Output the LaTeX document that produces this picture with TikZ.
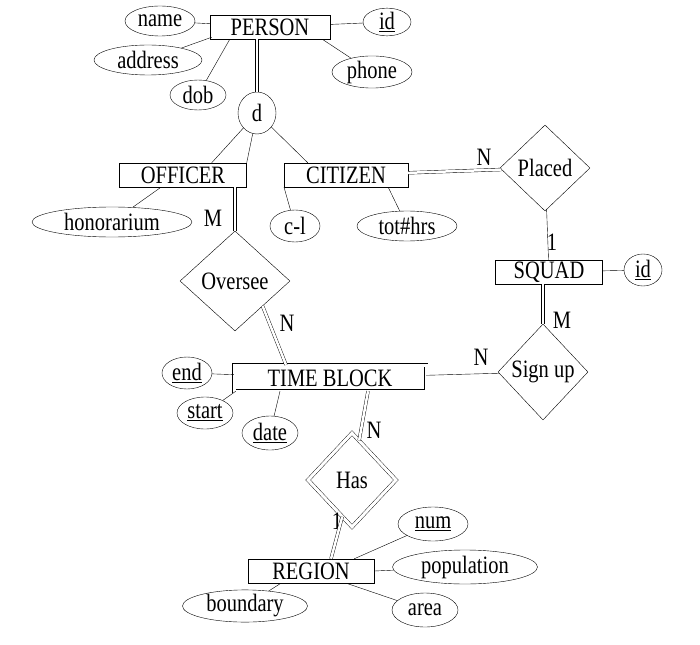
\documentclass[tikz,border=0pt]{standalone}
\usepackage{fontspec}
\setmainfont{Liberation Serif}[FakeStretch=0.82]
\usetikzlibrary{shapes.geometric}
\begin{document}
\begin{tikzpicture}[x=1pt,y=-1pt,
  every node/.style={font=\fontsize{25}{25}\selectfont, inner sep=0pt},
  ent/.style={draw, rectangle, minimum height=24pt},
  attr/.style={draw, ellipse},
  rel/.style={draw, diamond},
  lab/.style={},
  dbl/.style={double, double distance=2.5pt},
  wk/.style={double, double distance=3pt}]
\useasboundingbox (0,0) rectangle (700,644);
% entities
\node[ent, minimum width=120pt] (person) at (270,27) {PERSON};
\node[ent, minimum width=127pt] (officer) at (183,175) {OFFICER};
\node[ent, minimum width=124pt] (citizen) at (346,175) {CITIZEN};
\node[ent, minimum width=107pt] (squad) at (549,272) {SQUAD};
\node[ent, wk, minimum width=192pt, minimum height=26pt] (tb) at (330,378) {TIME BLOCK};
\node[ent, minimum width=126pt] (region) at (311,571) {REGION};
% attributes
\node[attr, minimum width=70pt, minimum height=30pt] (name) at (160,21) {name};
\node[attr, minimum width=48pt, minimum height=26pt] (pid) at (387,22) {\underline{id}};
\node[attr, minimum width=108pt, minimum height=30pt] (address) at (148,60) {address};
\node[attr, minimum width=56pt, minimum height=30pt] (dob) at (198,95) {dob};
\node[attr, minimum width=80pt, minimum height=28pt] (phone) at (372,72) {phone};
\node[draw, ellipse, minimum width=38pt, minimum height=42pt] (d) at (257,113) {d};
\node[attr, minimum width=160pt, minimum height=30pt] (hon) at (112,222) {honorarium};
\node[attr, minimum width=50pt, minimum height=32pt] (cl) at (295,226) {c-l};
\node[attr, minimum width=100pt, minimum height=30pt] (tot) at (407,226) {tot\#hrs};
\node[attr, minimum width=38pt, minimum height=32pt] (sid) at (643,270) {\underline{id}};
\node[attr, minimum width=50pt, minimum height=32pt] (end) at (187,373) {\underline{end}};
\node[attr, minimum width=56pt, minimum height=32pt] (start) at (205,413) {\underline{start}};
\node[attr, minimum width=56pt, minimum height=34pt] (date) at (270,433) {\underline{date}};
\node[attr, minimum width=70pt, minimum height=34pt] (num) at (433,524) {\underline{num}};
\node[attr, minimum width=145pt, minimum height=34pt] (pop) at (465,567) {population};
\node[attr, minimum width=66pt, minimum height=34pt] (area) at (425,610) {area};
\node[attr, minimum width=125pt, minimum height=28pt] (bound) at (245,606) {boundary};
% relationships
\node[rel, minimum width=90pt, minimum height=86pt] (placed) at (545,168) {Placed};
\node[rel, minimum width=110pt, minimum height=100pt] (oversee) at (235,281) {Oversee};
\node[rel, minimum width=90pt, minimum height=96pt] (signup) at (543,372) {Sign up};
\node[rel, wk, minimum width=88pt, minimum height=94pt] (has) at (352,480) {Has};
% labels
\node[lab] at (213,218) {M};
\node[lab] at (287,323) {N};
\node[lab] at (484,157) {N};
\node[lab] at (552,242) {1};
\node[lab] at (562,320) {M};
\node[lab] at (481,357) {N};
\node[lab] at (374,430) {N};
\node[lab] at (337,521) {1};
% connectors
\draw (person) -- (name);
\draw (person.south west) ++(2,-2) -- (address);
\draw (person.south west) ++(20,0) -- (dob);
\draw (person) -- (pid);
\draw (person.south east) ++(-8,0) -- (phone);
\draw[dbl] (person.south -| d) -- (d);
\draw (d) -- (officer.north east) ++(-35,0);
\draw (d) -- ([xshift=-35pt]officer.north east);
\draw (d) -- ([xshift=24pt]citizen.north west);
\draw ([xshift=-22pt]officer.south) -- (hon);
\draw[dbl] (officer.south -| oversee.north) -- (oversee.north);
\draw[dbl] (oversee.south east) ++(0,0) -- ([xshift=-44pt]tb.north);
\draw ([xshift=-62pt]citizen.south) -- (cl);
\draw ([xshift=-20pt]citizen.south east) -- (tot);
\draw[dbl] (citizen) -- (placed);
\draw (placed) -- (squad);
\draw (squad) -- (sid);
\draw[dbl] (squad.south -| signup.north) -- (signup);
\draw (signup) -- (tb);
\draw (tb) -- (end);
\draw ([xshift=2pt]tb.south west) -- (start);
\draw ([xshift=-50pt]tb.south) -- (date);
\draw[dbl] ([xshift=38pt]tb.south) -- (has);
\draw[dbl] (has) -- ([xshift=20pt]region.north);
\draw (region.north east) ++(-20,0) -- (num);
\draw (region.east) -- (pop);
\draw ([xshift=-28pt]region.south east) -- (area);
\draw ([xshift=-30pt]region.south) -- (bound);
\end{tikzpicture}
\end{document}
